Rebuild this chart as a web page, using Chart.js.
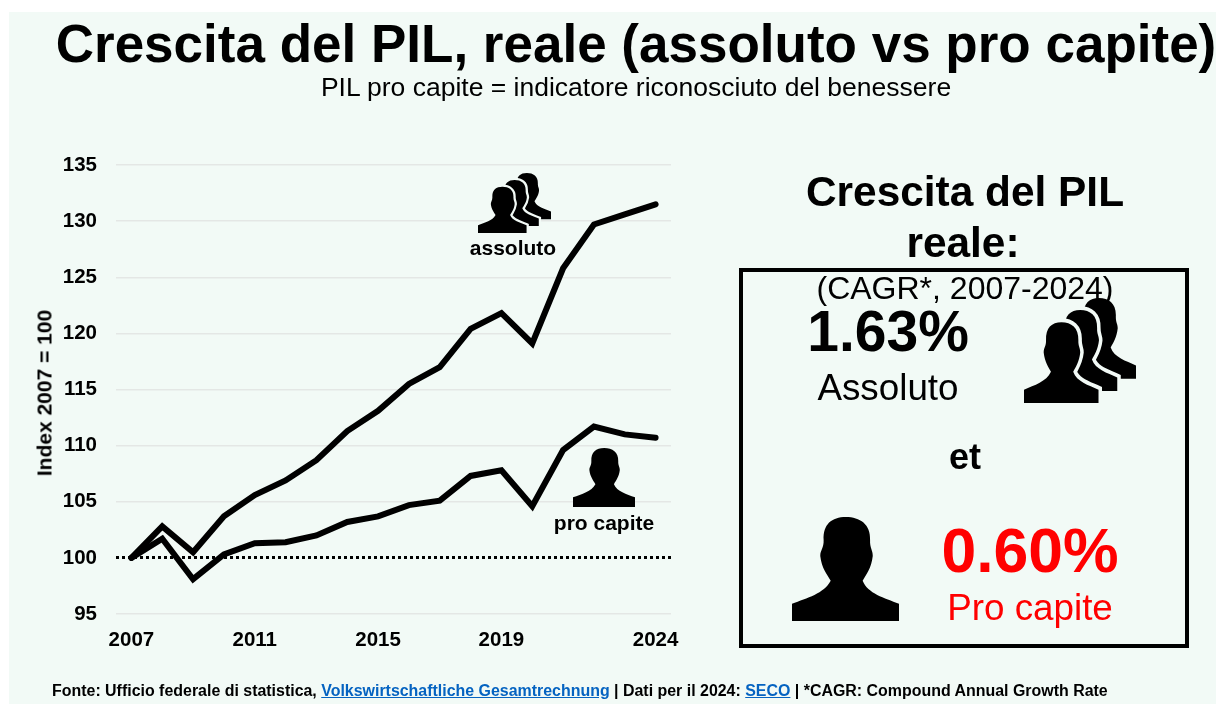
<!DOCTYPE html>
<html lang="it">
<head>
<meta charset="utf-8">
<title>Crescita del PIL</title>
<script src="https://cdn.jsdelivr.net/npm/chart.js@4"></script>
<style>
  html, body { margin: 0; padding: 0; background: #fff; }
  #page { position: relative; width: 1216px; height: 704px; overflow: hidden; font-family: "Liberation Sans", Arial, sans-serif; color: #000; }
  #panel { position: absolute; left: 9px; top: 12px; right: 0; bottom: 0; background: #f2faf6; }
  #chart { position: absolute; left: 0; top: 0; }
  .t { position: absolute; white-space: nowrap; transform: translate(-50%, -50%); line-height: 1; }
  .b { font-weight: bold; }
  #ytitle { transform: translate(-50%, -50%) rotate(-90deg); }
  #box { position: absolute; left: 739px; top: 268px; width: 442px; height: 372px; border: 4px solid #000; }
  svg.icon { position: absolute; overflow: visible; }
  #footer { position: absolute; left: 52px; top: 683px; font-size: 15.94px; font-weight: bold; white-space: nowrap; line-height: 16px; }
  #footer a { color: #0563c1; }
</style>
</head>
<body>
<div id="page">
  <div id="panel"></div>
  <canvas id="chart" width="1216" height="704"></canvas>

  <svg width="0" height="0" style="position:absolute">
    <defs>
      <path id="person" d="M0 315V263C45 245 95 232 115 193C105 175 88 155 84 118C84 100 95 95 94 70C92 22 118 0 160 0C202 0 234 22 232 70C231 95 240 100 240 118C236 155 220 175 210 193C225 232 275 245 318 263V315Z"/>
      <symbol id="one" viewBox="0 0 318 315" preserveAspectRatio="none"><use href="#person"/></symbol>
      <symbol id="three" viewBox="0 -94 478 409" preserveAspectRatio="none">
        <use href="#person" x="160" y="-94"/>
        <use href="#person" x="80" y="-47" stroke="#f2faf6" stroke-width="30" paint-order="stroke"/>
        <use href="#person" stroke="#f2faf6" stroke-width="30" paint-order="stroke"/>
      </symbol>
    </defs>
  </svg>

  <div class="t b" style="left:636px;top:43px;font-size:53px">Crescita del PIL, reale (assoluto vs pro capite)</div>
  <div class="t" style="left:636px;top:87px;font-size:26.5px">PIL pro capite = indicatore riconosciuto del benessere</div>

  <div class="t b" id="ytitle" style="left:44px;top:393px;font-size:21px">Index 2007 = 100</div>

  <svg class="icon" style="left:478px;top:173px" width="73" height="60"><use href="#three" width="73" height="60"/></svg>
  <div class="t b" style="left:513px;top:247px;font-size:21px">assoluto</div>
  <svg class="icon" style="left:573px;top:448px" width="62" height="59"><use href="#one" width="62" height="59"/></svg>
  <div class="t b" style="left:604px;top:522px;font-size:21px">pro capite</div>

  <div class="t b" style="left:965px;top:192px;font-size:42.4px">Crescita del PIL</div>
  <div class="t b" style="left:963px;top:243px;font-size:42.4px">reale:</div>
  <div id="box"></div>
  <div class="t" style="left:965px;top:288px;font-size:32px">(CAGR*, 2007-2024)</div>
  <div class="t b" style="left:888px;top:331px;font-size:57px">1.63%</div>
  <div class="t" style="left:888px;top:388px;font-size:36.8px">Assoluto</div>
  <svg class="icon" style="left:1024px;top:298px" width="112" height="105"><use href="#three" width="112" height="105"/></svg>
  <div class="t b" style="left:965px;top:457px;font-size:36px">et</div>
  <svg class="icon" style="left:792px;top:517px" width="107" height="104"><use href="#one" width="107" height="104"/></svg>
  <div class="t b" style="left:1030px;top:550px;font-size:62.5px;color:#ff0000">0.60%</div>
  <div class="t" style="left:1030px;top:608px;font-size:36.8px;color:#ff0000">Pro capite</div>

  <div id="footer">Fonte: Ufficio federale di statistica, <a href="#">Volkswirtschaftliche Gesamtrechnung</a> | Dati per il 2024: <a href="#">SECO</a> | *CAGR: Compound Annual Growth Rate</div>
</div>

<script>
// values
const years = ['2007','2008','2009','2010','2011','2012','2013','2014','2015','2016','2017','2018','2019','2020','2021','2022','2023','2024'];
const assoluto = [100,102.8,100.5,103.7,105.6,106.9,108.7,111.3,113.1,115.5,117.0,120.4,121.8,119.1,125.8,129.7,130.6,131.5];
const proCapite = [100,101.7,98.1,100.3,101.3,101.4,102.0,103.2,103.7,104.7,105.1,107.3,107.8,104.6,109.6,111.7,111.0,110.7];
const yearLabels = ['2007','2011','2015','2019','2024'];
const yMin = 95, yMax = 135, yStep = 5;
const baseline = 100;

const tickFont = { family: '"Liberation Sans", Arial, sans-serif', size: 20.5, weight: 'bold' };
const line = { borderColor: '#000', borderWidth: 6, borderCapStyle: 'round', borderJoinStyle: 'miter', pointRadius: 0, tension: 0, fill: false };

const ctx = document.getElementById('chart').getContext('2d');
new Chart(ctx, {
    type: 'line',
    data: {
        labels: years,
        datasets: [
            { label: 'assoluto', data: assoluto, ...line },
            { label: 'pro capite', data: proCapite, ...line }
        ]
    },
    options: {
        responsive: false,
        animation: false,
        layout: { padding: { left: 0, top: 165, right: 545, bottom: 40 } },
        plugins: { legend: { display: false }, tooltip: { enabled: false } },
        scales: {
            x: {
                offset: true,
                afterFit: s => { s.height = 50; },
                grid: { display: false },
                border: { display: false },
                ticks: {
                    color: '#000', font: tickFont, autoSkip: false, maxRotation: 0, padding: 6,
                    callback: function (v) { const y = this.getLabelForValue(v); return yearLabels.includes(y) ? y : ''; }
                }
            },
            y: {
                min: yMin, max: yMax,
                afterFit: s => { s.width = 116; },
                // the 100 line is the dotted black one
                grid: {
                    drawTicks: false,
                    color: c => c.tick && c.tick.value === baseline ? '#000' : '#e4e7e5',
                    lineWidth: c => c.tick && c.tick.value === baseline ? 3 : 1.5
                },
                border: { display: false, dash: c => c.tick && c.tick.value === baseline ? [3, 3] : [] },
                ticks: { color: '#000', font: tickFont, stepSize: yStep, padding: 19 }
            }
        }
    }
});
</script>
</body>
</html>
